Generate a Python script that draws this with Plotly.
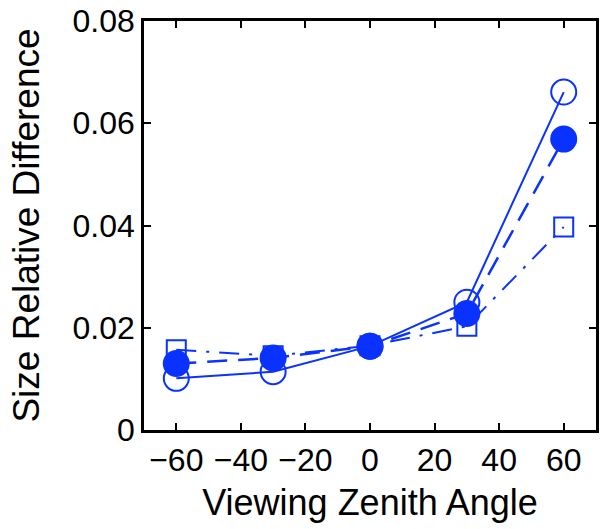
import plotly.graph_objects as go

angles = [-60, -30, 0, 30, 60]
open_circle = [0.0101, 0.0114, 0.0164, 0.0250, 0.0661]
filled_circle = [0.0130, 0.0141, 0.0164, 0.0228, 0.0569]
open_square = [0.0157, 0.0145, 0.0165, 0.0203, 0.0397]
x_ticks = [-60, -40, -20, 0, 20, 40, 60]
y_ticks = [0, 0.02, 0.04, 0.06, 0.08]
y_ticklabels = ["0", "0.02", "0.04", "0.06", "0.08"]

blue = "#0a32ff"
fig = go.Figure()
fig.add_trace(go.Scatter(x=angles, y=open_square, mode="lines+markers",
    line=dict(color=blue, width=2, dash="20px,10px,3px,10px"),
    marker=dict(symbol="square-open", size=19, color=blue, line=dict(width=2, color=blue))))
fig.add_trace(go.Scatter(x=angles, y=open_circle, mode="lines+markers",
    line=dict(color=blue, width=2),
    marker=dict(symbol="circle-open", size=25, color=blue, line=dict(width=2, color=blue))))
fig.add_trace(go.Scatter(x=angles, y=filled_circle, mode="lines+markers",
    line=dict(color=blue, width=2.5, dash="20px,11px"),
    marker=dict(symbol="circle", size=27, color=blue)))

fig.update_layout(
    width=602, height=529,
    margin=dict(l=144, r=3, t=20, b=99),
    paper_bgcolor="white", plot_bgcolor="white",
    showlegend=False,
    font=dict(family="Liberation Sans, Arial, sans-serif", color="black"),
)
fig.update_xaxes(range=[-70, 70], tickvals=x_ticks, ticks="inside", ticklen=7, tickwidth=2,
    tickcolor="black", showline=True, linewidth=2.5, linecolor="black", mirror="allticks",
    showgrid=False, zeroline=False, tickfont=dict(size=32),
    title=dict(text="Viewing Zenith Angle", font=dict(size=36), standoff=13))
fig.update_yaxes(range=[0, 0.08], tickvals=y_ticks, ticktext=y_ticklabels, ticks="inside",
    ticklen=7, tickwidth=2, tickcolor="black", showline=True, linewidth=2.5, linecolor="black",
    mirror="allticks", showgrid=False, zeroline=False, tickfont=dict(size=32),
    title=dict(text="Size Relative Difference", font=dict(size=37), standoff=22))

fig.write_html("out.html")
